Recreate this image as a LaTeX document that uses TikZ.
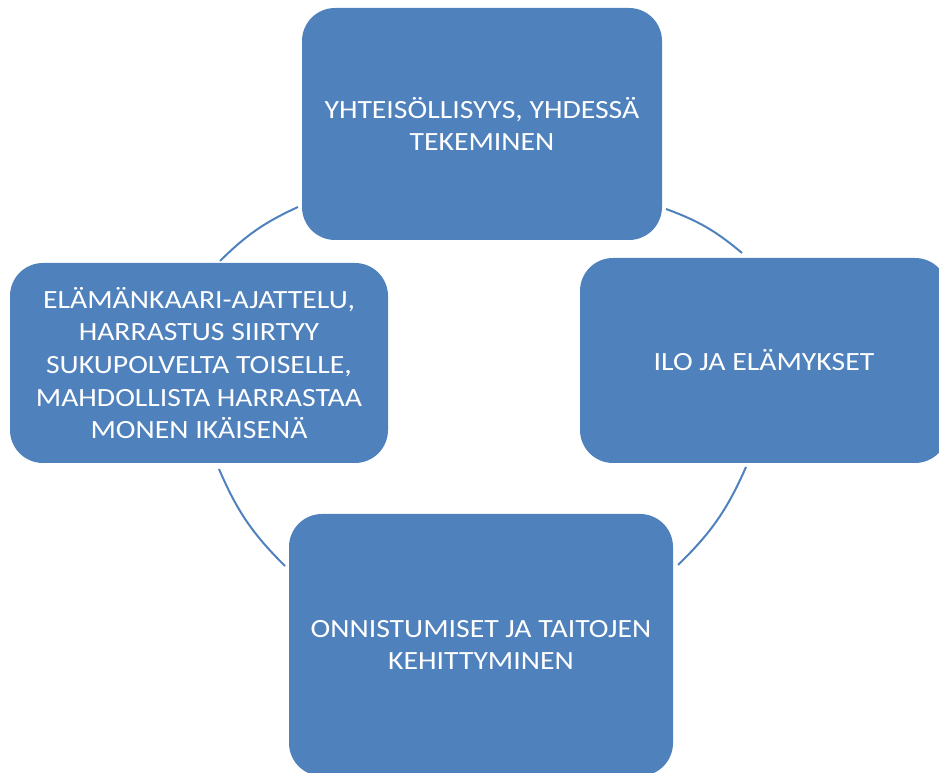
\documentclass[tikz,border=0pt]{standalone}
\usepackage{fontspec}
\setmainfont{Carlito}[FakeStretch=1.13]
\definecolor{smartblue}{HTML}{4F81BD}
\begin{document}
\begin{tikzpicture}[x=1pt,y=1pt,
  cyclebox/.style={fill=smartblue, draw=none, rounded corners=33pt, text=white,
    align=center, inner sep=0pt, font=\fontsize{26.3}{32.7}\selectfont},
  cyclearc/.style={draw=smartblue, line width=2pt}]
\useasboundingbox (0,0) rectangle (939,773);
\clip (0,0) rectangle (939,773);
\node[cyclebox, minimum width=360pt, minimum height=232pt] (top) at (482,649)
  {YHTEISÖLLISYYS, YHDESSÄ\\TEKEMINEN};
\node[cyclebox, minimum width=368pt, minimum height=205pt] (right) at (764,412.5)
  {ILO JA ELÄMYKSET};
\node[cyclebox, minimum width=384pt, minimum height=262pt] (bottom) at (481,128)
  {ONNISTUMISET JA TAITOJEN\\KEHITTYMINEN};
\node[cyclebox, minimum width=378pt, minimum height=200pt] (left) at (199,410)
  {ELÄMÄNKAARI-AJATTELU,\\HARRASTUS SIIRTYY\\SUKUPOLVELTA TOISELLE,\\MAHDOLLISTA HARRASTAA\\MONEN IKÄISENÄ};
\coordinate (tr1) at (666,564);
\coordinate (tr2) at (742,520);
\coordinate (tl1) at (298,566);
\coordinate (tl2) at (220,512);
\coordinate (bl1) at (219,304);
\coordinate (bl2) at (285,207);
\coordinate (br1) at (746,306);
\coordinate (br2) at (678,208);
\draw[cyclearc] (tr1) to[bend left=10] (tr2);
\draw[cyclearc] (tl1) to[bend right=10] (tl2);
\draw[cyclearc] (bl1) to[bend right=11] (bl2);
\draw[cyclearc] (br1) to[bend left=11] (br2);
\end{tikzpicture}
\end{document}
